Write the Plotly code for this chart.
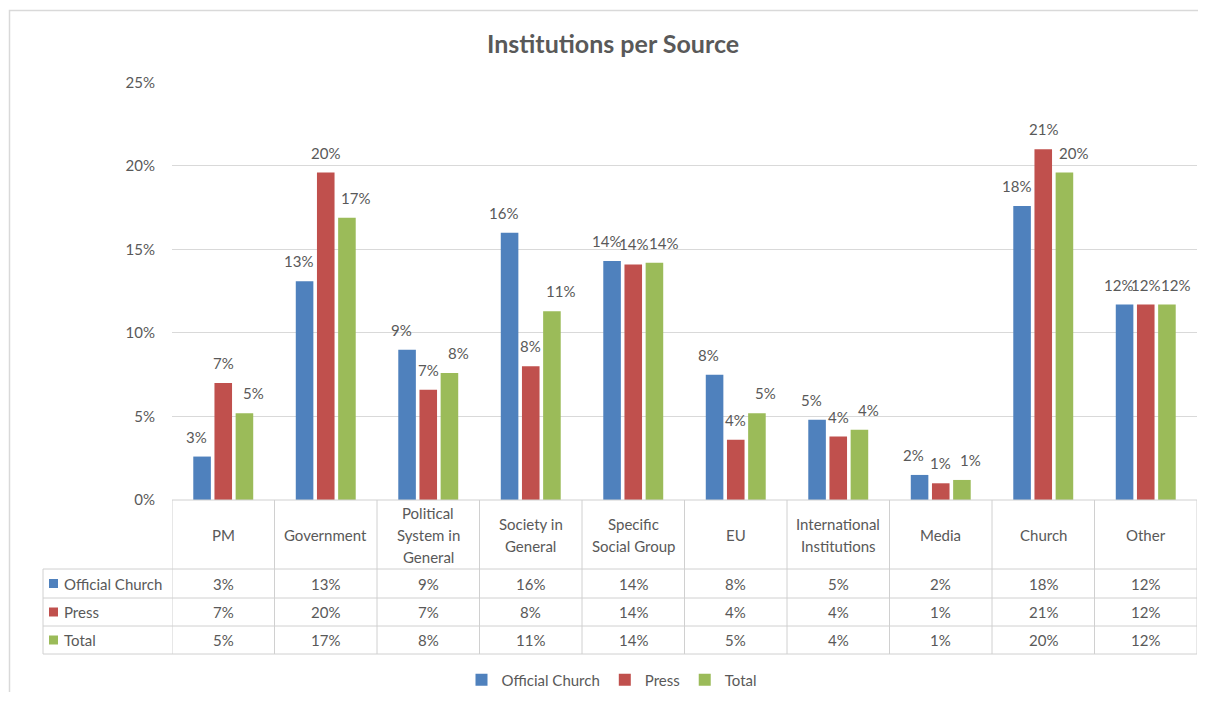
import plotly.graph_objects as go

# ---------------- data ----------------
categories = ["PM", "Government", "Political System in General", "Society in General",
              "Specific Social Group", "EU", "International Institutions", "Media",
              "Church", "Other"]
header_labels = [["PM"], ["Government"], ["Political", "System in", "General"],
                 ["Society in", "General"], ["Specific", "Social Group"], ["EU"],
                 ["International", "Institutions"], ["Media"], ["Church"], ["Other"]]
series_names = ["Official Church", "Press", "Total"]
official_church = [0.026, 0.131, 0.090, 0.160, 0.143, 0.075, 0.048, 0.015, 0.176, 0.117]
press = [0.070, 0.196, 0.066, 0.080, 0.141, 0.036, 0.038, 0.010, 0.210, 0.117]
total = [0.052, 0.169, 0.076, 0.113, 0.142, 0.052, 0.042, 0.012, 0.196, 0.117]
series_values = [official_church, press, total]
colors = ["#4F81BD", "#C0504D", "#9BBB59"]
y_ticks = [0, 0.05, 0.10, 0.15, 0.20, 0.25]

# ---------------- geometry (reference-pixel coordinates) ----------------
OFF = 8                      # page body margin
FW, FH = 1190, 684           # figure size
PL, PR, PT, PB = 172, 1197, 82, 500
FONT = "Lato"
TXT = "#595959"
GRID = "#D9D9D9"
LC = "#D0D0D0"
BARGAP = 0.38
NS = len(series_names)
SLOT = (1 - BARGAP) / NS
LABEL_XSHIFT = [-6, 0, 9]    # Excel-style spreading of the data labels


def px(x):
    return (x - PL) / (PR - PL)


def py(y):
    return (PB - y) / (PB - PT)


fig = go.Figure()
for name, vals, col in zip(series_names, series_values, colors):
    fig.add_trace(go.Bar(
        name=name, x=list(range(len(categories))), y=vals,
        marker=dict(color=col, line=dict(width=0)),
        hovertext=categories,
    ))

shapes = []
annotations = []

# data labels above the bars
for s, vals in enumerate(series_values):
    for i, v in enumerate(vals):
        annotations.append(dict(xref="x", yref="y", x=i + (s - (NS - 1) / 2) * SLOT, y=v,
                                text=f"{v:.0%}", showarrow=False, xanchor="center",
                                yanchor="middle", yshift=20, xshift=LABEL_XSHIFT[s],
                                font=dict(family=FONT, size=15, color=TXT)))

# header top line
shapes.append(dict(type="line", xref="paper", yref="paper", x0=px(PL), x1=px(PR),
                   y0=py(500), y1=py(500), line=dict(color=LC, width=1)))
# row lines
row_lines = [569, 598, 626, 654]
for yy in row_lines:
    shapes.append(dict(type="line", xref="paper", yref="paper", x0=px(43), x1=px(PR),
                       y0=py(yy), y1=py(yy), line=dict(color=LC, width=1)))
# column lines
for i in range(len(categories) + 1):
    shapes.append(dict(type="line", xref="x", yref="paper", x0=i - 0.5, x1=i - 0.5,
                       y0=py(500), y1=py(654), line=dict(color=LC, width=1)))
shapes.append(dict(type="line", xref="paper", yref="paper", x0=px(43), x1=px(43),
                   y0=py(569), y1=py(654), line=dict(color=LC, width=1)))

# header labels
for i, lines in enumerate(header_labels):
    n = len(lines)
    for k, ln in enumerate(lines):
        yc = 534.5 + (k - (n - 1) / 2) * 22
        annotations.append(dict(xref="x", yref="paper", x=i, y=py(yc), text=ln,
                                showarrow=False, xanchor="center", yanchor="middle",
                                font=dict(family=FONT, size=15, color=TXT)))

# rows
row_centers = [583.5, 612, 640]
for r, (name, vals, col) in enumerate(zip(series_names, series_values, colors)):
    yc = row_centers[r]
    shapes.append(dict(type="rect", xref="paper", yref="paper", x0=px(49), x1=px(58),
                       y0=py(yc + 4.5), y1=py(yc - 4.5), fillcolor=col, line=dict(width=0)))
    annotations.append(dict(xref="paper", yref="paper", x=px(62), y=py(yc), text=name,
                            showarrow=False, xanchor="left", yanchor="middle",
                            font=dict(family=FONT, size=15, color=TXT)))
    for i, v in enumerate(vals):
        annotations.append(dict(xref="x", yref="paper", x=i, y=py(yc), text=f"{v:.0%}",
                                showarrow=False, xanchor="center", yanchor="middle",
                                font=dict(family=FONT, size=15, color=TXT)))

# outer border
shapes.append(dict(type="rect", xref="paper", yref="paper", x0=px(9.5), x1=px(1240),
                   y0=py(740), y1=py(10.5), line=dict(color=GRID, width=1.5),
                   fillcolor="rgba(0,0,0,0)", layer="below"))

fig.update_layout(
    width=FW, height=FH,
    margin=dict(l=PL - OFF, r=FW - (PR - OFF), t=PT - OFF, b=FH - (PB - OFF), pad=0,
                autoexpand=False),
    paper_bgcolor="white", plot_bgcolor="white",
    title=dict(text="<b>Institutions per Source</b>", xref="container",
               x=(613 - OFF) / FW, xanchor="center",
               yref="container", y=1 - (44 - OFF) / FH, yanchor="middle",
               font=dict(family=FONT, size=25, color=TXT)),
    barmode="group", bargap=BARGAP, bargroupgap=0.17,
    xaxis=dict(range=[-0.5, len(categories) - 0.5], showticklabels=False,
               showgrid=False, zeroline=False, showline=False, fixedrange=True),
    yaxis=dict(range=[0, 0.2502], tickvals=y_ticks, tickformat=".0%",
               showgrid=True, gridcolor=GRID, gridwidth=1, zeroline=False,
               showline=False, ticks="", ticklabelstandoff=16,
               tickfont=dict(family=FONT, size=15, color=TXT)),
    legend=dict(orientation="h", xref="container", yref="container",
                x=(612 - OFF) / FW, xanchor="center",
                y=1 - (680 - OFF) / FH, yanchor="middle",
                font=dict(family=FONT, size=15, color=TXT),
                itemwidth=30, traceorder="normal"),
    shapes=shapes, annotations=annotations,
    font=dict(family=FONT, color=TXT),
)

fig.write_html("out.html")
